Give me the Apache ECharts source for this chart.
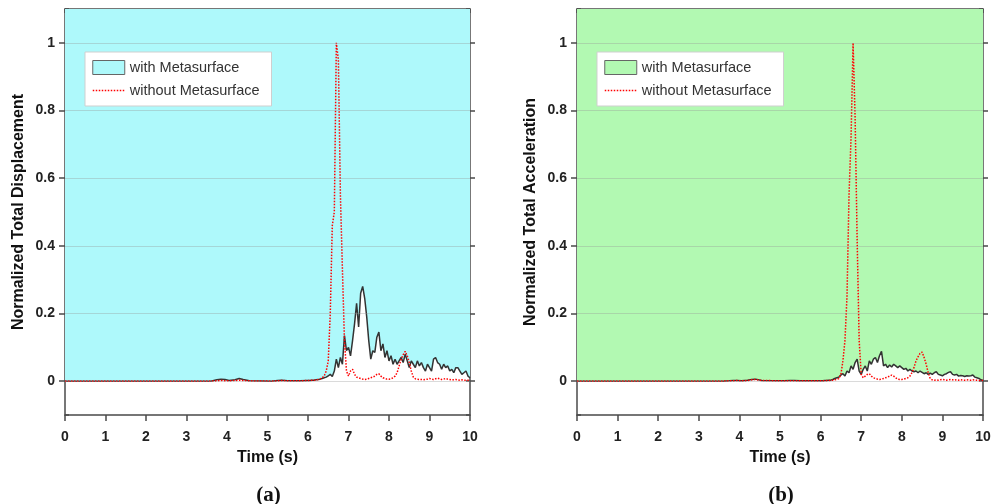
<!DOCTYPE html>
<html>
<head>
<meta charset="utf-8">
<script src="https://cdn.jsdelivr.net/npm/echarts@6/dist/echarts.min.js"></script>
<style>
  html, body { margin: 0; padding: 0; background: #fff; }
  #chart { width: 994px; height: 504px; }
</style>
</head>
<body>
<div id="chart"></div>
<script>
// time samples (s)
const time = [
  0, 3.6, 3.75, 3.85, 3.95, 4.05, 4.2, 4.3, 4.4, 4.55, 5.1, 5.25, 5.35, 5.5, 5.8,
  6.00, 6.05, 6.10, 6.15, 6.20, 6.25, 6.30, 6.35, 6.40, 6.45,
  6.50, 6.55, 6.60, 6.65, 6.70, 6.75, 6.80, 6.85, 6.90, 6.95,
  7.00, 7.05, 7.10, 7.15, 7.20, 7.25, 7.30, 7.35, 7.40, 7.45,
  7.50, 7.55, 7.60, 7.65, 7.70, 7.75, 7.80, 7.85, 7.90, 7.95,
  8.00, 8.05, 8.10, 8.15, 8.20, 8.25, 8.30, 8.35, 8.40, 8.45,
  8.50, 8.55, 8.60, 8.65, 8.70, 8.75, 8.80, 8.85, 8.90, 8.95,
  9.00, 9.05, 9.10, 9.15, 9.20, 9.25, 9.30, 9.35, 9.40, 9.45,
  9.50, 9.55, 9.60, 9.65, 9.70, 9.75, 9.80, 9.85, 9.90, 9.95,
  10.00
];

// (a) normalized total displacement
const dispWith = [
  0, 0, 0.004, 0.006, 0.005, 0.002, 0.004, 0.008, 0.005, 0.001, 0, 0.002, 0.003, 0.001, 0.001,
  0.002, 0.002, 0.003, 0.003, 0.004, 0.005, 0.006, 0.008, 0.010, 0.012,
  0.016, 0.020, 0.014, 0.030, 0.065, 0.040, 0.070, 0.050, 0.135, 0.090,
  0.100, 0.075, 0.120, 0.170, 0.230, 0.160, 0.260, 0.280, 0.245, 0.190,
  0.120, 0.065, 0.090, 0.085, 0.130, 0.145, 0.090, 0.110, 0.070, 0.090,
  0.060, 0.075, 0.050, 0.065, 0.050, 0.060, 0.070, 0.055, 0.080, 0.060,
  0.040, 0.060, 0.050, 0.040, 0.060, 0.045, 0.055, 0.040, 0.030, 0.050,
  0.040, 0.030, 0.065, 0.070, 0.055, 0.050, 0.035, 0.050, 0.040, 0.045,
  0.030, 0.035, 0.025, 0.040, 0.040, 0.030, 0.020, 0.025, 0.030, 0.015,
  0.010
];
const dispWithout = [
  0, 0, 0.001, 0.002, 0.001, 0.001, 0.002, 0.003, 0.002, 0.001, 0, 0.001, 0.002, 0.001, 0.001,
  0.002, 0.002, 0.003, 0.003, 0.004, 0.005, 0.007, 0.010, 0.015, 0.030,
  0.060, 0.200, 0.460, 0.500, 1.000, 0.950, 0.550, 0.330, 0.120, 0.030,
  0.015, 0.030, 0.035, 0.020, 0.012, 0.010, 0.008, 0.006, 0.005, 0.006,
  0.008, 0.010, 0.012, 0.015, 0.020, 0.022, 0.015, 0.010, 0.008, 0.006,
  0.006, 0.007, 0.010, 0.015, 0.025, 0.045, 0.065, 0.078, 0.088, 0.075,
  0.055, 0.030, 0.012, 0.007, 0.006, 0.005, 0.005, 0.004, 0.005, 0.006,
  0.008, 0.006, 0.005, 0.007, 0.009, 0.007, 0.005, 0.006, 0.008, 0.006,
  0.005, 0.004, 0.004, 0.005, 0.004, 0.003, 0.004, 0.003, 0.003, 0.003,
  0.002
];

// (b) normalized total acceleration
const accWith = [
  0, 0, 0.001, 0.002, 0.002, 0.001, 0.003, 0.005, 0.006, 0.002, 0.001, 0.002, 0.002, 0.001, 0.001,
  0.001, 0.001, 0.002, 0.002, 0.003, 0.003, 0.005, 0.008, 0.010, 0.012,
  0.018, 0.022, 0.015, 0.030, 0.025, 0.045, 0.035, 0.055, 0.065, 0.030,
  0.020, 0.035, 0.045, 0.030, 0.060, 0.050, 0.065, 0.070, 0.055, 0.075,
  0.088, 0.045, 0.050, 0.040, 0.048, 0.042, 0.050, 0.045, 0.040, 0.045,
  0.040, 0.035, 0.038, 0.030, 0.035, 0.030, 0.028, 0.030, 0.025, 0.030,
  0.026, 0.022, 0.025, 0.020, 0.024, 0.020, 0.025, 0.028, 0.020, 0.018,
  0.016, 0.020, 0.022, 0.026, 0.028, 0.020, 0.018, 0.020, 0.015, 0.017,
  0.016, 0.014, 0.016, 0.015, 0.016, 0.018, 0.012, 0.010, 0.008, 0.004,
  0.002
];
const accWithout = [
  0, 0, 0.001, 0.001, 0.002, 0.001, 0.002, 0.004, 0.005, 0.002, 0.001, 0.001, 0.001, 0.001, 0.001,
  0.001, 0.001, 0.001, 0.002, 0.002, 0.002, 0.003, 0.004, 0.005, 0.008,
  0.020, 0.060, 0.120, 0.250, 0.550, 0.720, 1.000, 0.780, 0.420, 0.120,
  0.020, 0.010, 0.015, 0.020, 0.022, 0.015, 0.010, 0.008, 0.006, 0.005,
  0.006, 0.008, 0.010, 0.012, 0.015, 0.018, 0.015, 0.010, 0.006, 0.005,
  0.005, 0.006, 0.008, 0.010, 0.015, 0.025, 0.040, 0.060, 0.072, 0.082,
  0.086, 0.070, 0.050, 0.025, 0.008, 0.004, 0.003, 0.004, 0.003, 0.004,
  0.005, 0.004, 0.003, 0.004, 0.005, 0.004, 0.003, 0.004, 0.003, 0.004,
  0.003, 0.003, 0.004, 0.003, 0.003, 0.004, 0.003, 0.003, 0.002, 0.002,
  0.002
];

const yTitles = ['Normalized Total Displacement', 'Normalized Total Acceleration'];
const panelLabels = ['(a)', '(b)'];
const fills = ['#aef9fb', '#b2f9b2'];

const FONT = 'Liberation Sans, Arial, sans-serif';
const FRAME = '#4a4a4a';
const panels = [
  { left: 65, width: 405, with: dispWith, without: dispWithout },
  { left: 577, width: 406, with: accWith, without: accWithout }
];
const TOP = 9, HEIGHT = 406;
// overlay grid spanning 0..1 of the main y range (-0.1..1.1)
const OTOP = TOP + HEIGHT * 0.1 / 1.2;
const OHEIGHT = HEIGHT / 1.2;

const grid = [], xAxis = [], yAxis = [], series = [], legend = [], title = [];

panels.forEach((p, k) => {
  grid.push({ left: p.left, top: TOP, width: p.width, height: HEIGHT });
  grid.push({ left: p.left, top: OTOP, width: p.width, height: OHEIGHT });
  const gMain = k * 2, gOver = k * 2 + 1;

  // bottom x axis
  xAxis.push({
    gridIndex: gMain, type: 'value', min: 0, max: 10, interval: 1, position: 'bottom',
    name: 'Time (s)', nameLocation: 'middle', nameGap: 35,
    nameTextStyle: { fontFamily: FONT, fontWeight: 'bold', fontSize: 16, color: '#111' },
    axisLine: { show: true, onZero: false, lineStyle: { color: FRAME, width: 1.5 } },
    axisTick: { show: true, inside: false, length: 6, lineStyle: { color: FRAME, width: 1.5 } },
    axisLabel: { margin: 15, fontFamily: FONT, fontWeight: 'bold', fontSize: 14, color: '#222' },
    splitLine: { show: false }
  });
  // top x axis (frame)
  xAxis.push({
    gridIndex: gMain, type: 'value', min: 0, max: 10, interval: 1, position: 'top',
    axisLine: { show: true, onZero: false, lineStyle: { color: FRAME, width: 1.5 } },
    axisTick: { show: true, inside: true, length: 4, lineStyle: { color: FRAME, width: 1.5 } },
    axisLabel: { show: false }, splitLine: { show: false }
  });
  // overlay x axis (hidden)
  xAxis.push({ gridIndex: gOver, type: 'value', min: 0, max: 10, show: false });

  // main left / right y axes (frame + minor inside ticks)
  ['left', 'right'].forEach(pos => {
    yAxis.push({
      gridIndex: gMain, type: 'value', min: -0.1, max: 1.1, interval: 0.1, position: pos,
      name: pos === 'left' ? yTitles[k] : '', nameLocation: 'middle', nameGap: 38, nameRotate: 90,
      nameTextStyle: { fontFamily: FONT, fontWeight: 'bold', fontSize: 16, color: '#111' },
      axisLine: { show: true, onZero: false, lineStyle: { color: FRAME, width: 1.5 } },
      axisTick: { show: true, inside: true, length: 4, lineStyle: { color: FRAME, width: 1.5 } },
      axisLabel: { show: false }, splitLine: { show: false }
    });
  });
  // overlay left / right y axes (major ticks, labels, grid lines)
  ['left', 'right'].forEach(pos => {
    yAxis.push({
      gridIndex: gOver, type: 'value', min: 0, max: 1, interval: 0.2, position: pos, z: 5,
      axisLine: { show: false },
      axisTick: { show: true, inside: false, length: pos === 'left' ? 6 : 5, lineStyle: { color: FRAME, width: 1.5 } },
      axisLabel: { show: pos === 'left', margin: 10, fontFamily: FONT, fontWeight: 'bold', fontSize: 14, color: '#222' },
      splitLine: { show: pos === 'left', lineStyle: { color: 'rgba(150,150,150,0.35)', width: 1 } }
    });
  });

  const xi = k * 3, yi = k * 4;
  series.push({
    name: 'with Metasurface', type: 'line', xAxisIndex: xi, yAxisIndex: yi,
    data: time.map((t, i) => [t, p.with[i]]),
    symbol: 'none', z: 2,
    lineStyle: { color: '#333', width: 1.5 },
    itemStyle: { color: '#333' },
    areaStyle: { origin: 'end', color: fills[k], opacity: 1 }
  });
  series.push({
    name: 'without Metasurface', type: 'line', xAxisIndex: xi, yAxisIndex: yi,
    data: time.map((t, i) => [t, p.without[i]]),
    symbol: 'none', z: 3,
    lineStyle: { color: '#ff0000', width: 1.5, type: 'dotted' },
    itemStyle: { color: '#ff0000' }
  });

  legend.push({
    left: p.left + 20, top: 52, orient: 'vertical',
    backgroundColor: '#fff', borderColor: '#cfcfcf', borderWidth: 1,
    padding: [8, 12, 8, 7], itemGap: 8, itemWidth: 32, itemHeight: 14,
    selectedMode: false,
    textStyle: { fontFamily: FONT, fontSize: 14.5, color: '#333' },
    data: [
      { name: 'with Metasurface', icon: 'rect', itemStyle: { color: fills[k], borderColor: '#666', borderWidth: 1 } },
      { name: 'without Metasurface', itemStyle: { opacity: 0 },
        lineStyle: { color: '#ff0000', width: 1.5, type: 'dotted' } }
    ]
  });

  title.push({
    text: panelLabels[k], left: p.left + p.width / 2 - 4, top: 480, textAlign: 'center',
    textStyle: { fontFamily: 'Liberation Serif, Times New Roman, serif', fontWeight: 'bold', fontSize: 21, color: '#111' }
  });
});

const chart = echarts.init(document.getElementById('chart'));
chart.setOption({
  backgroundColor: '#fff',
  animation: false,
  title, grid, xAxis, yAxis, series, legend
});
</script>
</body>
</html>
